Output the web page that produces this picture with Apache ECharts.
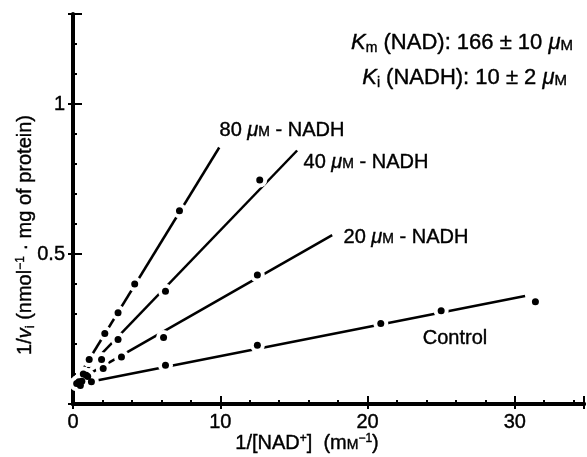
<!DOCTYPE html>
<html>
<head>
<meta charset="utf-8">
<script src="https://cdn.jsdelivr.net/npm/echarts@6/dist/echarts.min.js"></script>
<style>
  html, body { margin: 0; padding: 0; background: #fff; }
  #chart { width: 587px; height: 457px; }
</style>
</head>
<body>
<div id="chart"></div>
<script>
// measured points (1/[NAD+] in mM^-1, 1/v)
var ctrlX = [0.5, 1.25, 6.28, 12.52, 20.9, 25.0, 31.4];
var ctrlY = [0.062, 0.074, 0.129, 0.196, 0.268, 0.311, 0.341];
var n20X = [0.6, 1.0, 2.05, 3.29, 6.15, 12.52];
var n20Y = [0.076, 0.092, 0.118, 0.157, 0.222, 0.43];
var n40X = [0.4, 0.9, 1.94, 3.06, 6.28, 12.68];
var n40Y = [0.074, 0.096, 0.148, 0.215, 0.376, 0.747];
var n80X = [0.25, 0.7, 1.1, 2.16, 3.06, 4.19, 7.23];
var n80Y = [0.068, 0.1, 0.148, 0.235, 0.304, 0.40, 0.644];

// fitted lines (end points)
var fitCtrlX = [1.26, 30.7], fitCtrlY = [0.075, 0.36];
var fit20X = [0.3, 17.6], fit20Y = [0.078, 0.563];
var fit40X = [0.3, 15.22], fit40Y = [0.084, 0.845];
var fit80X = [0.3, 9.93], fit80Y = [0.085, 0.855];

var xTicks = [0, 10, 20, 30];
var yTicks = [0.5, 1];

function zip(a, b) { return a.map(function (v, i) { return [v, b[i]]; }); }

var FONT = 'Liberation Sans, Arial, sans-serif';
var INK = { fill: '#000', stroke: '#000', lineWidth: 0.4, fontFamily: FONT };

// rich styles for a given base size (sub/superscripts, small-cap M)
function mkRich(s) {
  function st(o) { return Object.assign({}, INK, o); }
  return {
    n: st({ fontSize: s, lineHeight: s + 4, verticalAlign: 'middle' }),
    i: st({ fontSize: s, lineHeight: s + 4, verticalAlign: 'middle', fontStyle: 'italic' }),
    sub: st({ fontSize: Math.round(s * 0.65), verticalAlign: 'middle', padding: [Math.round(s * 0.5), 0, 0, 0] }),
    sc: st({ fontSize: Math.round(s * 0.7), verticalAlign: 'middle', padding: [Math.round(s * 0.22), 0, 0, 0] }),
    sup: st({ fontSize: Math.round(s * 0.6), verticalAlign: 'middle', padding: [0, 0, Math.round(s * 0.45), 0] })
  };
}

function txt(x, y, text, size, align, rot) {
  return {
    type: 'text', x: x, y: y, rotation: rot || 0, z: 10,
    style: { text: text, rich: mkRich(size), align: align || 'center', verticalAlign: 'middle',
      font: size + 'px ' + FONT, fill: '#000' }
  };
}

var myChart = echarts.init(document.getElementById('chart'));

function lineSeries(xs, ys) {
  return { type: 'line', data: zip(xs, ys), symbol: 'none', z: 2, silent: true,
    lineStyle: { color: '#000', width: 2.5 } };
}
function halo(xs, ys) {
  return { type: 'scatter', data: zip(xs, ys), symbolSize: 15, z: 3, silent: true,
    itemStyle: { color: '#fff', opacity: 1 } };
}
function dots(xs, ys) {
  return { type: 'scatter', data: zip(xs, ys), symbolSize: 7, z: 4, silent: true,
    itemStyle: { color: '#000', opacity: 1 } };
}

var tickFont = { color: '#000', fontSize: 20, fontFamily: FONT, textBorderColor: '#000', textBorderWidth: 0.4 };

var option = {
  animation: false,
  backgroundColor: '#fff',
  grid: { left: 73, right: 1, top: 14, bottom: 53 },
  xAxis: [
    { type: 'value', position: 'bottom', min: 0, max: 34.7, interval: 2,
      axisLine: { lineStyle: { color: '#000', width: 4 } },
      axisTick: { inside: true, length: 4, lineStyle: { color: '#000', width: 2 } },
      axisLabel: Object.assign({ margin: 8,
        formatter: function (v) { return xTicks.indexOf(v) >= 0 ? String(v) : ''; } }, tickFont),
      splitLine: { show: false } },
    { type: 'value', position: 'bottom', min: 0, max: 34.7, interval: 10,
      axisLine: { show: false },
      axisTick: { inside: true, length: 8, lineStyle: { color: '#000', width: 2 } },
      axisLabel: { show: false }, splitLine: { show: false } },
    { type: 'value', position: 'top', min: 0, max: 34.7, interval: 10,
      axisLine: { lineStyle: { color: '#000', width: 4 } },
      axisTick: { inside: true, length: 5, lineStyle: { color: '#000', width: 2 } },
      axisLabel: { show: false }, splitLine: { show: false } }
  ],
  yAxis: [
    { type: 'value', position: 'left', min: 0, max: 1.3, interval: 0.1,
      axisLine: { lineStyle: { color: '#000', width: 4 } },
      axisTick: { inside: true, length: 4, lineStyle: { color: '#000', width: 2 } },
      axisLabel: Object.assign({ margin: 8,
        formatter: function (v) {
          for (var k = 0; k < yTicks.length; k++) if (Math.abs(v - yTicks[k]) < 1e-6) return String(yTicks[k]);
          return '';
        } }, tickFont),
      splitLine: { show: false } },
    { type: 'value', position: 'left', min: 0, max: 1.3, interval: 0.5,
      axisLine: { show: false },
      axisTick: { inside: true, length: 9, lineStyle: { color: '#000', width: 2 } },
      axisLabel: { show: false }, splitLine: { show: false } },
    { type: 'value', position: 'right', min: 0, max: 1.3, interval: 0.5,
      axisLine: { lineStyle: { color: '#000', width: 2 } },
      axisTick: { inside: true, length: 5, lineStyle: { color: '#000', width: 2 } },
      axisLabel: { show: false }, splitLine: { show: false } }
  ],
  series: [
    lineSeries(fitCtrlX, fitCtrlY), lineSeries(fit20X, fit20Y),
    lineSeries(fit40X, fit40Y), lineSeries(fit80X, fit80Y),
    halo(ctrlX, ctrlY), halo(n20X, n20Y), halo(n40X, n40Y), halo(n80X, n80Y),
    dots(ctrlX, ctrlY), dots(n20X, n20Y), dots(n40X, n40Y), dots(n80X, n80Y)
  ],
  graphic: [
    txt(573, 43, '{i|K}{sub|m}{n| (NAD): 166 ± 10 }{i|μ}{sc|M}', 22, 'right'),
    txt(567, 78, '{i|K}{sub|i}{n| (NADH): 10 ± 2 }{i|μ}{sc|M}', 22, 'right'),
    txt(282, 130, '{n|80 }{i|μ}{sc|M}{n| - NADH}', 20),
    txt(366, 162, '{n|40 }{i|μ}{sc|M}{n| - NADH}', 20),
    txt(406, 237, '{n|20 }{i|μ}{sc|M}{n| - NADH}', 20),
    txt(455, 338, '{n|Control}', 20),
    txt(307, 443, '{n|1/[NAD}{sup|+}{n|]  (m}{sc|M}{sup|−1}{n|)}', 20),
    txt(25, 235, '{n|1/}{i|v}{sub|i}{n| (nmol}{sup|−1}{n| · mg of protein)}', 20, 'center', Math.PI / 2)
  ]
};

myChart.setOption(option);
window.addEventListener('resize', function () {
  myChart.resize();
});
</script>
</body>
</html>
